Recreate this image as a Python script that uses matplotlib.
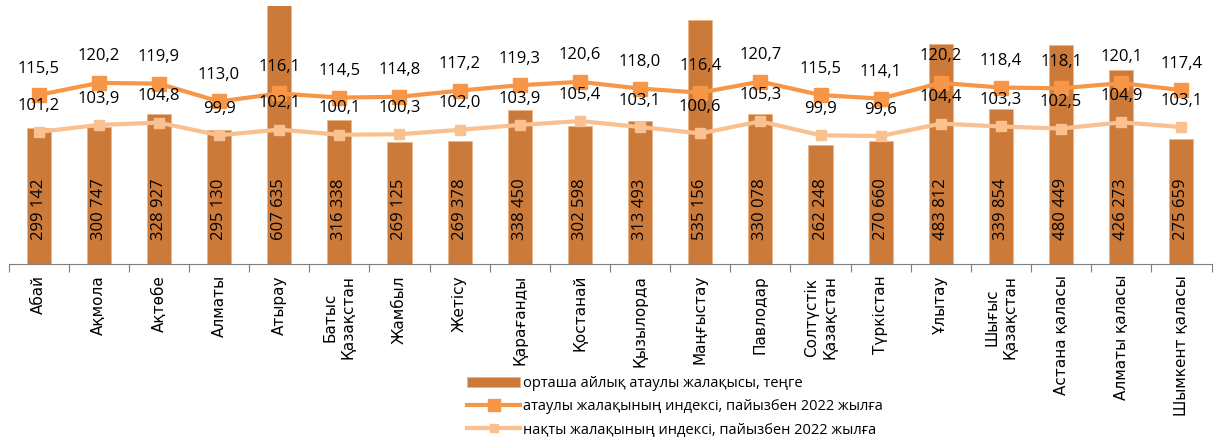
import matplotlib
matplotlib.use('Agg')
import matplotlib.pyplot as plt
import numpy as np

# data
regions = ['Абай', 'Ақмола', 'Ақтөбе', 'Алматы', 'Атырау', 'Батыс\nҚазақстан', 'Жамбыл',
           'Жетісу', 'Қарағанды', 'Қостанай', 'Қызылорда', 'Маңғыстау', 'Павлодар',
           'Солтүстік\nҚазақстан', 'Түркістан', 'Ұлытау', 'Шығыс\nҚазақстан',
           'Астана қаласы', 'Алматы қаласы', 'Шымкент қаласы']
wage = [299142, 300747, 328927, 295130, 607635, 316338, 269125, 269378, 338450, 302598,
        313493, 535156, 330078, 262248, 270660, 483812, 339854, 480449, 426273, 275659]
nominal_idx = [115.5, 120.2, 119.9, 113.0, 116.1, 114.5, 114.8, 117.2, 119.3, 120.6,
               118.0, 116.4, 120.7, 115.5, 114.1, 120.2, 118.4, 118.1, 120.1, 117.4]
real_idx = [101.2, 103.9, 104.8, 99.9, 102.1, 100.1, 100.3, 102.0, 103.9, 105.4,
            103.1, 100.6, 105.3, 99.9, 99.6, 104.4, 103.3, 102.5, 104.9, 103.1]

lbl_bar = 'орташа айлық атаулы жалақысы, теңге'
lbl_nom = 'атаулы жалақының индексі, пайызбен 2022 жылға'
lbl_real = 'нақты жалақының индексі, пайызбен 2022 жылға'

bar_col = '#CC7A39'
nom_col = '#F79646'
real_col = '#FAC090'
font = ['Open Sans', 'DejaVu Sans']

fig = plt.figure(figsize=(12.17, 4.41), dpi=100)
ax = fig.add_axes([8.5 / 1217, 1 - 264 / 441, 1203 / 1217, 258 / 441])
x = np.arange(len(regions))

ax.bar(x, wage, width=0.4, color=bar_col, edgecolor='#EBB58A', linewidth=0.6, label=lbl_bar)
ax.set_ylim(0, 567000)
ax.set_xlim(-0.5, len(regions) - 0.5)

# bar values, inside base
for xi, v in zip(x, wage):
    ax.text(xi, 0.093, f'{v:,}'.replace(',', ' '), transform=ax.get_xaxis_transform(),
            rotation=90, ha='center', va='bottom', fontsize=12, family=font, color='black')

for s in ['top', 'right', 'left']:
    ax.spines[s].set_visible(False)
ax.spines['bottom'].set_color('#7F7F7F')
ax.set_yticks([])
ax.set_xticks(x)
ax.set_xticklabels(regions, rotation=90, fontsize=11, linespacing=1.25)
ax.tick_params(axis='x', which='major', length=0, pad=8)
ax.set_xticks(np.arange(-0.5, len(regions)), minor=True)
ax.tick_params(axis='x', which='minor', length=6, color='#7F7F7F', width=0.8)

ax2 = ax.twinx()
ax2.set_ylim(50, 150)
ax2.axis('off')
ax2.plot(x, real_idx, color=real_col, linewidth=3, marker='s', markersize=7, label=lbl_real)
ax2.plot(x, nominal_idx, color=nom_col, linewidth=3, marker='s', markersize=10, label=lbl_nom)

for xi, v in zip(x, nominal_idx):
    ax2.annotate(f'{v:.1f}'.replace('.', ','), (xi, v), xytext=(0, 19), textcoords='offset points',
                 ha='center', va='center', fontsize=12, family=font)
for xi, v in zip(x, real_idx):
    ax2.annotate(f'{v:.1f}'.replace('.', ','), (xi, v), xytext=(0, 19), textcoords='offset points',
                 ha='center', va='center', fontsize=12, family=font)

h1, l1 = ax.get_legend_handles_labels()
h2, l2 = ax2.get_legend_handles_labels()
fig.legend([h1[0], h2[1], h2[0]], [l1[0], l2[1], l2[0]], loc='center left',
           bbox_to_anchor=(460 / 1217, 1 - 407 / 441), frameon=False, borderpad=0,
           handlelength=3.6, handletextpad=0.2, labelspacing=0.55, markerscale=0.8,
           prop={'family': font, 'size': 10.5})

plt.savefig('out.png', dpi=100)
